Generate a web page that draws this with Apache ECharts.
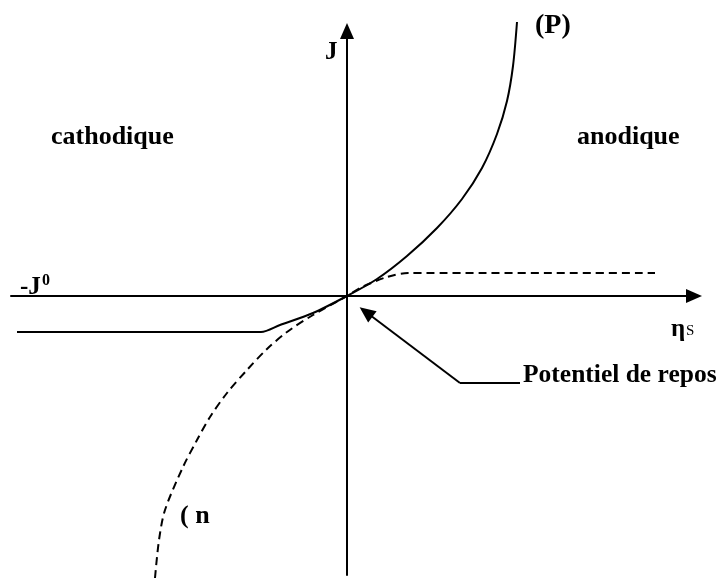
<!DOCTYPE html>
<html>
<head>
<meta charset="utf-8">
<script src="https://cdn.jsdelivr.net/npm/echarts@6/dist/echarts.min.js"></script>
<style>
  html, body { margin: 0; padding: 0; background: #fff; }
  #main { width: 728px; height: 581px; }
</style>
</head>
<body>
<div id="main"></div>
<script>
// courbe (P) - trait plein
const courbeP = [
  [-330, -36], [-86, -36], [-67, -29], [-34, -17], [0, 0], [30, 17], [60, 40],
  [90, 68], [115, 97], [135, 128], [150, 162], [160, 195], [166, 230], [170, 274]
];
// courbe (n) - pointillés
const courbeN = [
  [-192, -282], [-188, -244], [-182, -214], [-164, -171], [-150, -144],
  [-137, -121], [-120, -97], [-100, -74], [-80, -53], [-60, -36], [-34, -19],
  [0, 0], [13, 8], [40, 19], [61, 23], [308, 23]
];
// fleche "Potentiel de repos"
const repere = [[173, -87], [113, -87], [19, -16]];

const police = '"Liberation Serif", "Times New Roman", serif';

const chart = echarts.init(document.getElementById('main'));

function texte(x, y, t, size, weight) {
  return {
    type: 'text', x: x, y: y,
    style: {
      text: t, fill: '#000', fontFamily: police, fontSize: size,
      fontWeight: weight || 'bold', verticalAlign: 'middle'
    }
  };
}

chart.setOption({
  animation: false,
  grid: { left: 11, right: 34, top: 31, bottom: 6 },
  xAxis: {
    type: 'value', min: -336, max: 347,
    axisLine: { onZero: true, lineStyle: { color: '#000', width: 2 },
      symbol: ['none', 'triangle'], symbolSize: [14, 16] },
    axisTick: { show: false }, axisLabel: { show: false }, splitLine: { show: false }
  },
  yAxis: {
    type: 'value', min: -279, max: 265,
    axisLine: { onZero: true, lineStyle: { color: '#000', width: 2 },
      symbol: ['none', 'triangle'], symbolSize: [14, 16] },
    axisTick: { show: false }, axisLabel: { show: false }, splitLine: { show: false }
  },
  series: [
    {
      name: '(P)', type: 'line', data: courbeP, showSymbol: false, clip: false,
      smooth: 0.3,
      lineStyle: { color: '#000', width: 2 }, emphasis: { disabled: true }
    },
    {
      name: '(n)', type: 'line', data: courbeN, showSymbol: false, clip: false,
      smooth: 0.3,
      lineStyle: { color: '#000', width: 2, type: [8, 5] }, emphasis: { disabled: true }
    },
    {
      name: 'repere', type: 'line', data: [], silent: true,
      markLine: {
        silent: true, animation: false,
        lineStyle: { color: '#000', width: 2, type: 'solid' },
        label: { show: false },
        symbol: 'none',
        data: [
          [{ coord: repere[0], symbol: 'none' }, { coord: repere[1], symbol: 'none' }],
          [{ coord: repere[1], symbol: 'none' }, { coord: repere[2], symbol: 'triangle', symbolSize: [14, 16] }]
        ]
      }
    }
  ],
  graphic: [
    texte(325, 53, 'J', 25),
    texte(535, 26, '(P)', 28),
    texte(51, 137, 'cathodique', 26),
    texte(577, 137, 'anodique', 26),
    texte(20, 288, '-J', 25),
    texte(42, 281, '0', 16),
    texte(671, 330, 'η', 25),
    texte(686, 331, 'S', 15, 'normal'),
    texte(523, 375, 'Potentiel de repos', 25.5),
    texte(180, 516, '( n', 26)
  ]
});
</script>
</body>
</html>
